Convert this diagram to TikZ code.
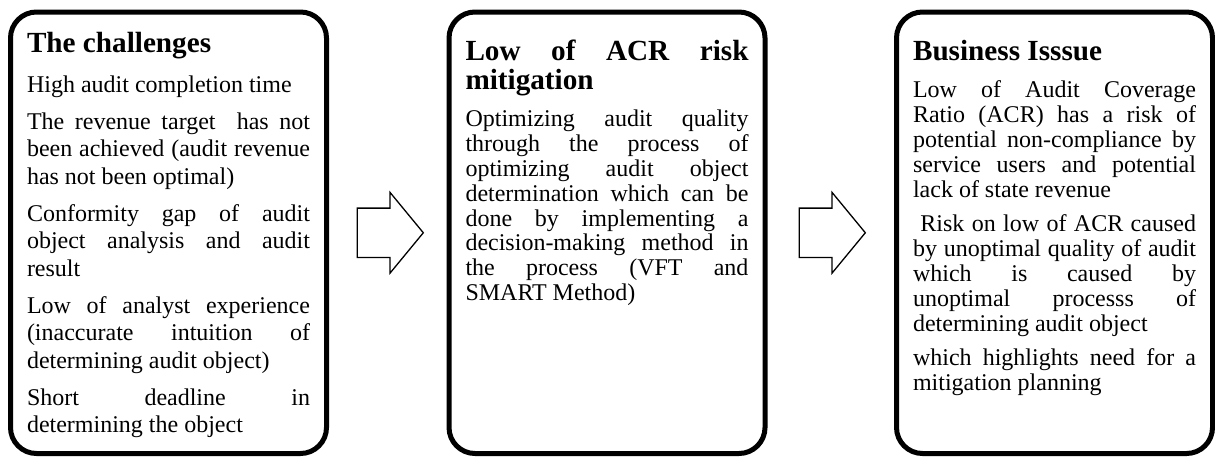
\documentclass[tikz,border=0pt]{standalone}
\usepackage{fontspec}
\setmainfont{Liberation Serif}
\usetikzlibrary{positioning,shapes.arrows}

\newcommand{\headfont}{\fontsize{14.6}{14.5}\selectfont\bfseries}

\tikzset{
  panel/.style={draw, line width=2.5pt, rounded corners=13pt, outer sep=0pt,
    inner xsep=8.25pt, inner ysep=10pt, text width=141.5pt, align=justify,
    font=\fontsize{12}{12.4}\selectfont,
    execute at begin node={\setlength{\parskip}{5pt}\tolerance=10000\hyphenpenalty=10000}},
  blockarrow/.style={draw, single arrow, line width=0.65pt, inner xsep=0pt, inner ysep=12pt,
    outer sep=0pt, minimum height=33pt,
    single arrow head extend=7.85pt, single arrow tip angle=101}
}

\begin{document}
\begin{tikzpicture}[x=0.5pt, y=-0.5pt]
\useasboundingbox (0,0) rectangle (1215,456);

% challenges
\node[panel, anchor=north west, text height=10pt, text depth=190.75pt,
  font=\fontsize{12}{13.65}\selectfont] (chal) at (10.5,12) {%
{\headfont The challenges\par}\vspace{1.5pt}
High audit completion time\par
The revenue target\ \ has not\linebreak been achieved (audit revenue\linebreak has not been optimal)\par
Conformity gap of audit\linebreak object analysis and audit\linebreak result\par
Low of analyst experience\linebreak (inaccurate intuition of\linebreak determining audit object)\par
Short deadline in\linebreak determining the object};

\node[blockarrow, right=15.4pt of chal] (arrA) {};

% mitigation
\node[panel, right=12.85pt of arrA, text height=14pt, text depth=186.75pt] (acr) {%
{\headfont Low of ACR risk\linebreak mitigation\par}\vspace{1.5pt}
Optimizing audit quality\linebreak through the process of\linebreak optimizing audit object\linebreak determination which can be\linebreak done by implementing a\linebreak decision-making method in\linebreak the process (VFT and\linebreak SMART Method)};

\node[blockarrow, right=17.15pt of acr] (arrB) {};

% business issue
\node[panel, right=15.6pt of arrB, text height=14pt, text depth=186.75pt] (biz) {%
{\headfont Business Isssue\par}\vspace{1.5pt}
Low of Audit Coverage\linebreak Ratio (ACR) has a risk of\linebreak potential non-compliance by\linebreak service users and potential\linebreak lack of state revenue\par
\ Risk on low of ACR caused\linebreak by unoptimal quality of audit\linebreak which is caused by\linebreak unoptimal processs of\linebreak determining audit object\par
which highlights need for a\linebreak mitigation planning};
\end{tikzpicture}
\end{document}
